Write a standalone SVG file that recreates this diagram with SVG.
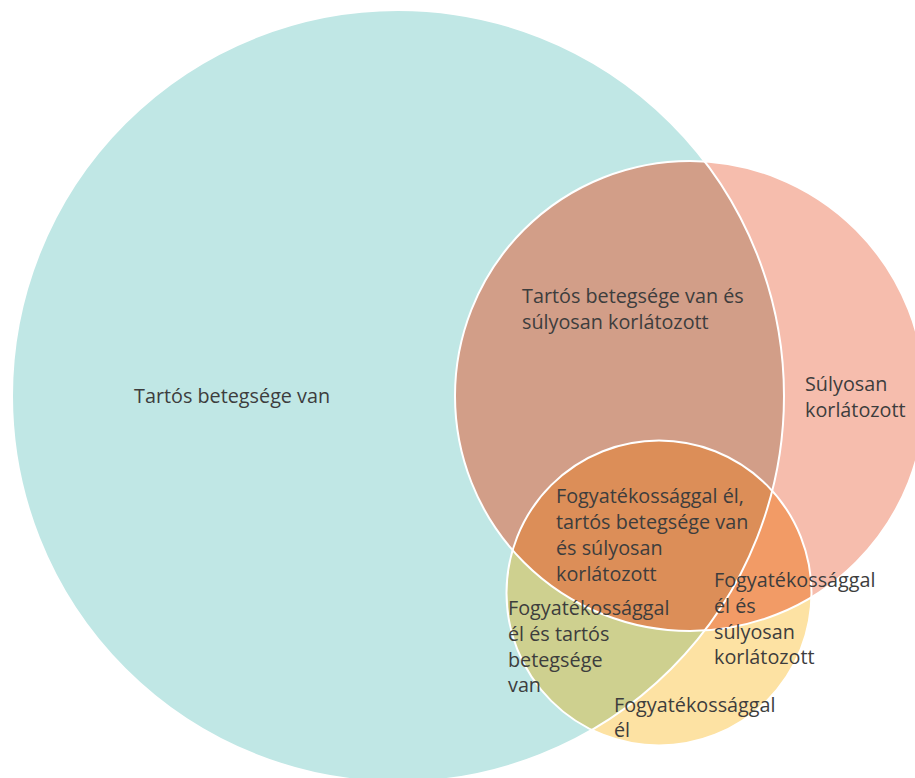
<svg xmlns="http://www.w3.org/2000/svg" width="915" height="778" viewBox="0 0 915 778">
<style>
text{font-family:"Open Sans","Noto Sans",sans-serif;font-size:19.8px;fill:#3d3d3d}
.edge{fill:none;stroke:#ffffff;stroke-width:2}
</style>
<defs>
<clipPath id="cT"><circle cx="398" cy="396" r="386"/></clipPath>
<clipPath id="cS"><circle cx="690" cy="396" r="235"/></clipPath>
</defs>
<rect width="915" height="778" fill="#ffffff"/>
<g id="teal"><circle cx="398" cy="396" r="386" fill="#c0e7e5"/></g>
<g id="salmon"><circle cx="690" cy="396" r="235" fill="#f6bdad"/></g>
<g id="yellow"><circle cx="659" cy="593" r="152.5" fill="#fde2a3"/></g>
<g id="teal-salmon"><circle cx="690" cy="396" r="235" fill="#d29e88" clip-path="url(#cT)"/></g>
<g id="teal-yellow"><circle cx="659" cy="593" r="152.5" fill="#ced08f" clip-path="url(#cT)"/></g>
<g id="salmon-yellow"><circle cx="659" cy="593" r="152.5" fill="#f29b66" clip-path="url(#cS)"/></g>
<g id="all-three" clip-path="url(#cS)"><circle cx="659" cy="593" r="152.5" fill="#dc8e58" clip-path="url(#cT)"/></g>
<g id="edges">
<circle class="edge" cx="398" cy="396" r="386"/>
<circle class="edge" cx="690" cy="396" r="235"/>
<circle class="edge" cx="659" cy="593" r="152.5"/>
</g>
<g id="labels">
<text x="134" y="403">Tartós betegsége van</text>
<text x="522" y="303">Tartós betegsége van és</text>
<text x="522" y="329">súlyosan korlátozott</text>
<text x="805" y="391">Súlyosan</text>
<text x="805" y="417">korlátozott</text>
<text x="556" y="503">Fogyatékossággal él,</text>
<text x="556" y="529">tartós betegsége van</text>
<text x="556" y="555">és súlyosan</text>
<text x="556" y="581">korlátozott</text>
<text x="714" y="587">Fogyatékossággal</text>
<text x="714" y="613">él és</text>
<text x="714" y="639">súlyosan</text>
<text x="714" y="664">korlátozott</text>
<text x="508" y="615">Fogyatékossággal</text>
<text x="508" y="641">él és tartós</text>
<text x="508" y="667">betegsége</text>
<text x="508" y="692">van</text>
<text x="614" y="712">Fogyatékossággal</text>
<text x="614" y="737">él</text>
</g>
</svg>
